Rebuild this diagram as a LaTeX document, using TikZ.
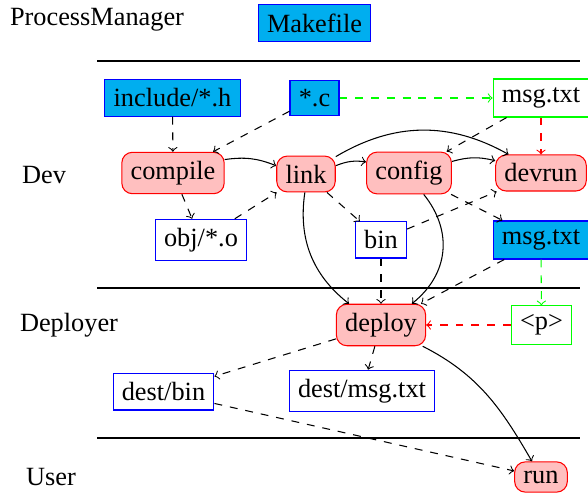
\documentclass[tikz,border=0pt]{standalone}
\usepackage{fontspec}
\setmainfont{Liberation Serif}
\definecolor{filecyan}{RGB}{0,174,239}
\tikzset{
  proc/.style={draw=red, fill=red!25, rounded corners=4pt},
  srcfile/.style={draw=blue, fill=filecyan},
  outfile/.style={draw=blue, fill=white},
  genfile/.style={draw=green, fill=white},
  lanelabel/.style={inner sep=0pt},
  separator/.style={draw=black},
  flow/.style={->},
  dep/.style={->, dashed},
}
\begin{document}
\begin{tikzpicture}[x=0.38pt, y=-0.38pt]
\useasboundingbox (0,0) rectangle (588,493);

% swimlane titles
\node[lanelabel] (lpm)  at (97,20)  {ProcessManager};
\node[lanelabel] (ldev) at (44,175) {Dev};
\node[lanelabel] (ldep) at (69,325) {Deployer};
\node[lanelabel] (lusr) at (51,477) {User};

% swimlane separators
\coordinate (s1a) at (97,61);  \coordinate (s1b) at (580,61);
\coordinate (s2a) at (97,288); \coordinate (s2b) at (580,288);
\coordinate (s3a) at (97,438); \coordinate (s3b) at (580,438);
\draw[separator] (s1a) -- (s1b);
\draw[separator] (s2a) -- (s2b);
\draw[separator] (s3a) -- (s3b);

% ProcessManager
\node[srcfile] (make) at (314.5,23) {Makefile};

% Dev
\node[srcfile] (inc)    at (172.5,98) {include/*.h};
\node[srcfile] (csrc)   at (314.5,98) {*.c};
\node[genfile] (msgsrc) at (541,98)   {msg.txt};
\node[proc]    (compile) at (173,173) {compile};
\node[proc]    (link)    at (306,174) {link};
\node[proc]    (config)  at (409,173) {config};
\node[proc]    (devrun)  at (541,173) {devrun};
\node[outfile] (obj)    at (201,240) {obj/*.o};
\node[outfile] (bin)    at (381,240) {bin};
\node[srcfile] (msgout) at (541,240) {msg.txt};

% Deployer
\node[proc]    (deploy)  at (381,325) {deploy};
\node[genfile] (param)   at (541.5,325) {<p>};
\node[outfile] (destbin) at (163.5,392) {dest/bin};
\node[outfile] (destmsg) at (362,391) {dest/msg.txt};

% User
\node[proc] (run) at (541,477) {run};

% build flow
\draw[dep, green] (csrc) -- (msgsrc);
\draw[dep] (inc) -- (compile);
\draw[dep] (csrc) -- (compile);
\draw[dep] (msgsrc) -- (config);
\draw[dep, red] (msgsrc) -- (devrun);
\draw[flow] (compile) to[bend left=15] (link);
\draw[flow] (link) to[bend left=15] (config);
\draw[flow] (config) to[bend left=15] (devrun);
\draw[flow] (link) to[bend left=30] (devrun);
\draw[dep] (compile) -- (obj);
\draw[dep] (obj) -- (link);
\draw[dep] (link) -- (bin);
\draw[dep] (bin) -- (devrun);
\draw[dep] (config) -- (msgout);

% deployment flow
\draw[flow] (link) to[bend right=30] (deploy);
\draw[flow] (config) to[bend left=45, looseness=1.1] (deploy);
\draw[dep] (bin) -- (deploy);
\draw[dep] (msgout) -- (deploy);
\draw[dep, green] (msgout) -- (param);
\draw[dep, red] (param) -- (deploy);
\draw[dep] (deploy) -- (destbin);
\draw[dep] (deploy) -- (destmsg);
\draw[flow] (deploy) to[out=-27, in=120] (run);
\draw[dep] (destbin) -- (run);
\end{tikzpicture}
\end{document}
